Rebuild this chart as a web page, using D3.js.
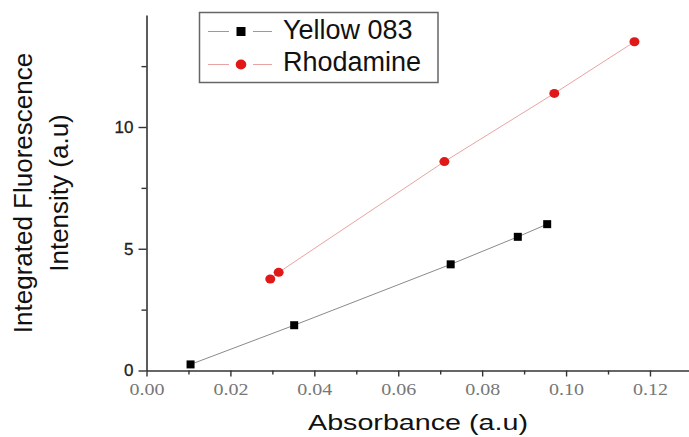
<!DOCTYPE html>
<html>
<head>
<meta charset="utf-8">
<script src="https://cdn.jsdelivr.net/npm/d3@7"></script>
<style>
  html, body { margin: 0; padding: 0; background: #fff; }
  svg { display: block; }
</style>
</head>
<body>
<svg id="chart"></svg>
<script>
// values
var seriesNames = ['Yellow 083', 'Rhodamine'];
var yellowX = [0.0105, 0.0352, 0.0725, 0.0885, 0.0955];
var yellowY = [0.25, 1.86, 4.36, 5.49, 6.01];
var rhodX = [0.0295, 0.0315, 0.0710, 0.0972, 0.1163];
var rhodY = [3.76, 4.03, 8.58, 11.38, 13.50];
var xMajor = [0, 0.02, 0.04, 0.06, 0.08, 0.10, 0.12];
var xMinor = [0.01, 0.03, 0.05, 0.07, 0.09, 0.11];
var yMajor = [0, 5, 10];
var yMinor = [2.5, 7.5, 12.5];

var svgWidth = 689, svgHeight = 437;
var svg = d3.select('#chart')
    .attr('width', svgWidth)
    .attr('height', svgHeight);

var x = d3.scaleLinear().domain([0, 0.1293]).range([146.5, 689]);
var y = d3.scaleLinear().domain([0, 14.6]).range([370.5, 15]);

var axisColor = '#333';

// x axis
var gx = svg.append('g').attr('transform', 'translate(0,' + y(0) + ')');
gx.call(d3.axisBottom(x).tickValues(xMajor).tickSize(6).tickSizeOuter(0).tickFormat(d3.format('.2f')));
gx.append('g').call(d3.axisBottom(x).tickValues(xMinor).tickSize(4).tickSizeOuter(0).tickFormat(''))
    .select('.domain').remove();
gx.selectAll('.domain').attr('stroke', axisColor).attr('stroke-width', 1.6);
gx.selectAll('.tick line').attr('stroke', axisColor).attr('stroke-width', 1.4);
gx.selectAll('.tick text')
    .attr('font-family', '"Liberation Serif", "Times New Roman", serif')
    .attr('font-size', 17)
    .attr('fill', '#777')
    .attr('y', 12)
    .attr('dy', '0.71em')
    .attr('textLength', 35)
    .attr('lengthAdjust', 'spacingAndGlyphs');

// y axis
var gy = svg.append('g').attr('transform', 'translate(' + x(0) + ',0)');
gy.call(d3.axisLeft(y).tickValues(yMajor).tickSize(8).tickSizeOuter(0).tickFormat(d3.format('d')));
gy.append('g').call(d3.axisLeft(y).tickValues(yMinor).tickSize(5).tickSizeOuter(0).tickFormat(''))
    .select('.domain').remove();
gy.selectAll('.domain').attr('stroke', axisColor).attr('stroke-width', 1.6);
gy.selectAll('.tick line').attr('stroke', axisColor).attr('stroke-width', 1.4);
gy.selectAll('.tick text')
    .attr('font-family', '"Liberation Sans", Arial, sans-serif')
    .attr('font-size', 17)
    .attr('fill', '#222')
    .attr('stroke', '#222')
    .attr('stroke-width', 0.3)
    .attr('x', -13);

// lines and markers
var line = d3.line().x(function(d) { return x(d[0]); }).y(function(d) { return y(d[1]); });
var yellow = yellowX.map(function(v, i) { return [v, yellowY[i]]; });
var rhod = rhodX.map(function(v, i) { return [v, rhodY[i]]; });

svg.append('path').datum(yellow)
    .attr('fill', 'none').attr('stroke', '#8a8a8a').attr('stroke-width', 1)
    .attr('d', line);
svg.append('path').datum(rhod)
    .attr('fill', 'none').attr('stroke', '#e9a3a3').attr('stroke-width', 1)
    .attr('d', line);

var sq = 8;
svg.selectAll('rect.yellow').data(yellow).enter().append('rect')
    .attr('class', 'yellow')
    .attr('x', function(d) { return x(d[0]) - sq / 2; })
    .attr('y', function(d) { return y(d[1]) - sq / 2; })
    .attr('width', sq).attr('height', sq)
    .attr('fill', '#000');
svg.selectAll('ellipse.rhod').data(rhod).enter().append('ellipse')
    .attr('class', 'rhod')
    .attr('cx', function(d) { return x(d[0]); })
    .attr('cy', function(d) { return y(d[1]); })
    .attr('rx', 5).attr('ry', 4.5)
    .attr('fill', '#e01818');

// axis titles
svg.append('text')
    .attr('x', 418).attr('y', 430)
    .attr('text-anchor', 'middle')
    .attr('font-family', '"Liberation Sans", Arial, sans-serif')
    .attr('font-size', 22)
    .attr('fill', '#111')
    .attr('textLength', 220)
    .attr('lengthAdjust', 'spacingAndGlyphs')
    .text('Absorbance (a.u)');

var yTitle = svg.append('g').attr('transform', 'translate(0,193) rotate(-90)');
yTitle.append('text')
    .attr('x', 0).attr('y', 32)
    .attr('text-anchor', 'middle')
    .attr('font-family', '"Liberation Sans", Arial, sans-serif')
    .attr('font-size', 26)
    .attr('fill', '#111')
    .text('Integrated Fluorescence');
yTitle.append('text')
    .attr('x', 0).attr('y', 68)
    .attr('text-anchor', 'middle')
    .attr('font-family', '"Liberation Sans", Arial, sans-serif')
    .attr('font-size', 26)
    .attr('fill', '#111')
    .text('Intensity (a.u)');

// legend
var legend = svg.append('g');
legend.append('rect')
    .attr('x', 199.5).attr('y', 12.5)
    .attr('width', 238.5).attr('height', 70)
    .attr('fill', '#fff').attr('stroke', '#666').attr('stroke-width', 1.5);

var legendRows = [
    { name: seriesNames[0], cy: 31.5, base: 38.5, stroke: '#9a9a9a', shape: 'square' },
    { name: seriesNames[1], cy: 64.5, base: 71, stroke: '#e9a3a3', shape: 'circle' }
];
legendRows.forEach(function(r) {
    // sample line, broken around the marker
    [[208, 229], [253, 272]].forEach(function(seg) {
        legend.append('line')
            .attr('x1', seg[0]).attr('x2', seg[1])
            .attr('y1', r.cy).attr('y2', r.cy)
            .attr('stroke', r.stroke).attr('stroke-width', 1);
    });
    if (r.shape === 'square') {
        legend.append('rect')
            .attr('x', 241 - 4.5).attr('y', r.cy - 4.5)
            .attr('width', 9).attr('height', 9)
            .attr('fill', '#000');
    } else {
        legend.append('ellipse')
            .attr('cx', 241).attr('cy', r.cy)
            .attr('rx', 5.3).attr('ry', 5)
            .attr('fill', '#e01818');
    }
    legend.append('text')
        .attr('x', 283).attr('y', r.base)
        .attr('font-family', '"Liberation Sans", Arial, sans-serif')
        .attr('font-size', 27)
        .attr('fill', '#111')
        .text(r.name);
});
</script>
</body>
</html>
